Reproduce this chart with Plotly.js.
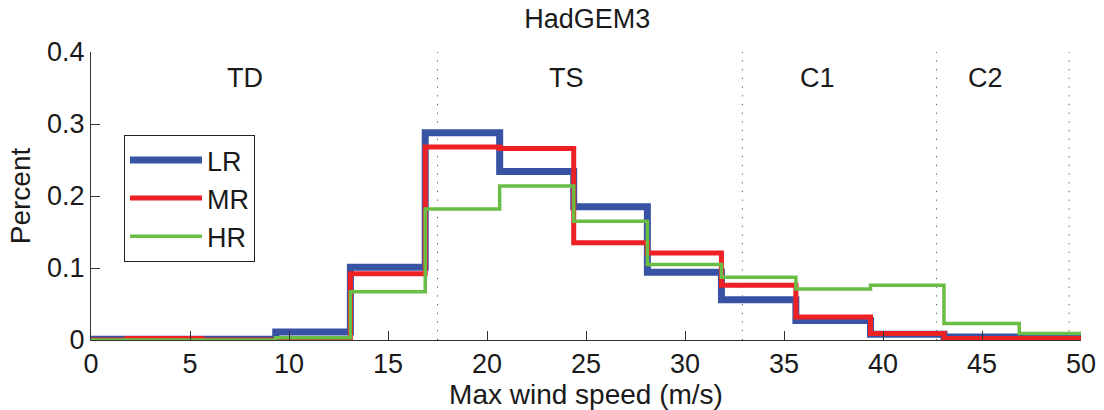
<!DOCTYPE html>
<html>
<head>
<meta charset="utf-8">
<script src="https://cdn.plot.ly/plotly-3.0.1.min.js"></script>
<style>html,body{margin:0;padding:0;background:#fff;}#chart{width:1104px;height:410px;}</style>
</head>
<body>
<div id="chart"></div>
<script>
// Bin edges (m/s) of the stairs histogram
var binEdges = [-1.9, 1.82, 5.6, 9.33, 13.1, 16.88, 20.64, 24.38, 28.1, 31.84, 35.6, 39.37, 43.08, 46.88, 50.6];
// Fraction of storms per bin
var seriesLR = [0.001, 0.001, 0.001, 0.011, 0.101, 0.288, 0.234, 0.185, 0.094, 0.056, 0.027, 0.008, 0.004, 0.002];
var seriesMR = [0.000, 0.002, 0.000, 0.000, 0.092, 0.268, 0.266, 0.135, 0.121, 0.076, 0.032, 0.009, 0.002, 0.002];
var seriesHR = [0.000, 0.000, 0.000, 0.003, 0.067, 0.182, 0.214, 0.165, 0.105, 0.087, 0.071, 0.076, 0.023, 0.009];
var seriesNames = ["LR", "MR", "HR"];
// Saffir-Simpson thresholds (m/s) and category labels
var thresholds = [17.5, 32.9, 42.7, 49.4];
var categoryLabels = ["TD", "TS", "C1", "C2"];
var categoryLabelX = [7.8, 24.0, 36.7, 45.2];
var xTickVals = [0, 5, 10, 15, 20, 25, 30, 35, 40, 45, 50];
var yTickVals = [0, 0.1, 0.2, 0.3, 0.4];

var colors = ["#3953A4", "#ED2024", "#6ABD45"];
var widths = [7, 5, 3.5];
var FONT = "Liberation Sans, Arial, Helvetica, sans-serif";
var INK = "#1a1a1a";

function stairs(vals) { return vals.concat([vals[vals.length - 1]]); }

var allSeries = [seriesLR, seriesMR, seriesHR];
var traces = allSeries.map(function (s, i) {
  return {
    type: "scatter", mode: "lines",
    x: binEdges, y: stairs(s),
    name: seriesNames[i],
    line: {shape: "hv", color: colors[i], width: widths[i]}
  };
});

var shapes = thresholds.map(function (t) {
  return {type: "line", xref: "x", yref: "paper", x0: t, x1: t, y0: 0, y1: 1,
          line: {color: "#555", width: 1, dash: "1.2px,7.5px"}, layer: "below"};
});

var annotations = categoryLabels.map(function (lab, i) {
  return {text: lab, x: categoryLabelX[i], y: 0.364, xref: "x", yref: "y",
          showarrow: false, font: {family: FONT, size: 27, color: INK},
          xanchor: "center", yanchor: "middle"};
});

var layout = {
  width: 1104, height: 410,
  margin: {l: 91, r: 23, t: 52, b: 70},
  paper_bgcolor: "#fff", plot_bgcolor: "#fff",
  font: {family: FONT, size: 27, color: INK},
  title: {text: "HadGEM3", font: {family: FONT, size: 27, color: INK},
          x: 0.532, xanchor: "center", y: 0.955, yanchor: "middle", yref: "container"},
  xaxis: {range: [0, 50], tickvals: xTickVals, ticks: "inside", ticklen: 9, tickcolor: "#333",
          showline: true, linecolor: "#333", linewidth: 1, showgrid: false, zeroline: false,
          tickfont: {family: FONT, size: 27, color: INK},
          title: {text: "Max wind speed (m/s)", font: {family: FONT, size: 28, color: INK}, standoff: 3},
          automargin: false},
  yaxis: {range: [0, 0.4], tickvals: yTickVals, ticktext: ["0", "0.1", "0.2", "0.3", "0.4"],
          ticks: "inside", ticklen: 9, tickcolor: "#333",
          showline: true, linecolor: "#333", linewidth: 1, showgrid: false, zeroline: false,
          tickfont: {family: FONT, size: 27, color: INK},
          title: {text: "Percent", font: {family: FONT, size: 28, color: INK}, standoff: 8},
          automargin: false},
  showlegend: true,
  legend: {x: 0.0333, y: 0.712, xanchor: "left", yanchor: "top",
           bordercolor: "#222", borderwidth: 1, bgcolor: "#fff",
           font: {family: FONT, size: 27, color: INK}, itemwidth: 72},
  shapes: shapes,
  annotations: annotations
};

Plotly.newPlot("chart", traces, layout, {displayModeBar: false, staticPlot: true});
</script>
</body>
</html>
